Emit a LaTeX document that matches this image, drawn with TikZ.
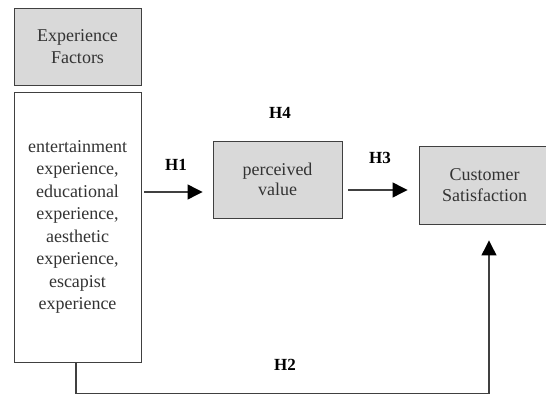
\documentclass[tikz,border=0pt]{standalone}
\usepackage{fontspec}
\setmainfont{Liberation Serif}
\usetikzlibrary{arrows.meta}

\begin{document}
\begin{tikzpicture}[x=1pt,y=-1pt,
        factor/.style={draw=black!75, line width=0.9pt, align=center, text=black!80,
            font=\rmfamily\fontsize{18}{22.5}\selectfont, inner sep=0pt},
        greybox/.style={factor, fill=black!15},
        hyp/.style={font=\rmfamily\fontsize{17}{20}\selectfont\bfseries},
        arr/.style={draw=black!75, line width=1.2pt, -{Triangle[length=15pt,width=15pt,black]}}]
        \useasboundingbox (0,0) rectangle (546,395);

        \node[greybox, minimum width=127, minimum height=77] at (77.5,46.5) (ef) {Experience\\Factors};
        \node[factor, minimum width=127, minimum height=270] at (77.5,227) (exp)
            {entertainment\\experience,\\educational\\experience,\\aesthetic\\experience,\\escapist\\experience};
        \node[greybox, minimum width=129, minimum height=77, font=\rmfamily\fontsize{18}{20.5}\selectfont] at (277.5,179.5) (pv) {perceived\\value};
        \node[greybox, minimum width=131, minimum height=78, font=\rmfamily\fontsize{18}{20.5}\selectfont] at (484.5,185) (cs) {Customer\\Satisfaction};

        \node[hyp] at (176,165) (h1) {H1};
        \node[hyp] at (280,113) (h4) {H4};
        \node[hyp] at (380,158) (h3) {H3};
        \node[hyp] at (285,365) (h2) {H2};

        \coordinate (corner1) at (76,393.5);
        \coordinate (corner2) at (489,393.5);

        \draw[arr] ([xshift=3]exp.east |- 0,192) -- ([xshift=-10]pv.west |- 0,192);
        \draw[arr] ([xshift=6]pv.east |- 0,190) -- ([xshift=-11]cs.west |- 0,190);
        \draw[arr] (exp.south -| corner1) -- (corner1) -- (corner2) -- ([yshift=-16]cs.south -| corner2);

\end{tikzpicture}
\end{document}
